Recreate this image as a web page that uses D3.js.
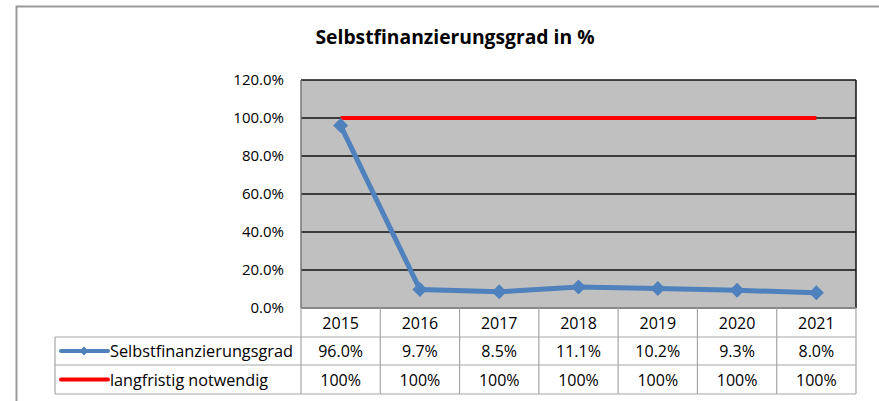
<!DOCTYPE html>
<html><head><meta charset="utf-8">
<script src="https://cdn.jsdelivr.net/npm/d3@7"></script>
<style>body{margin:0;background:#fff}svg{display:block}</style>
</head><body>
<svg id="c" width="879" height="401"></svg>
<script>
const years = ["2015","2016","2017","2018","2019","2020","2021"];
const selbst = [96.0, 9.7, 8.5, 11.1, 10.2, 9.3, 8.0];
const langfristig = [100, 100, 100, 100, 100, 100, 100];
const selbstLabels = ["96.0%","9.7%","8.5%","11.1%","10.2%","9.3%","8.0%"];
const langLabels = ["100%","100%","100%","100%","100%","100%","100%"];
const yTicks = [0, 20, 40, 60, 80, 100, 120];
const seriesNames = ["Selbstfinanzierungsgrad", "langfristig notwendig"];
const title = "Selbstfinanzierungsgrad in %";

const svg = d3.select("#c");
const font = "'Open Sans', 'Noto Sans', sans-serif";
const L = 301, R = 856, T = 80, B = 308;
const x = d3.scaleBand().domain(years).range([L, R]).padding(0);
const y = d3.scaleLinear().domain([0, 120]).range([B, T]);
const cx = d => x(d) + x.bandwidth() / 2;

// outer frame
svg.append("rect").attr("x", 16.5).attr("y", 6.5).attr("width", 900).attr("height", 420)
  .attr("fill", "#fff").attr("stroke", "#999").attr("stroke-width", 2);

// title
svg.append("text").attr("x", 455).attr("y", 44).attr("text-anchor", "middle")
  .attr("font-family", font).attr("font-weight", "bold").attr("font-size", 19).attr("fill", "#000")
  .attr("textLength", 279).attr("lengthAdjust", "spacingAndGlyphs")
  .text(title);

// plot background
svg.append("rect").attr("x", L).attr("y", T).attr("width", R - L).attr("height", B - T).attr("fill", "#c0c0c0");

// gridlines
svg.append("g").selectAll("line").data(yTicks.filter(t => t > 0)).join("line")
  .attr("x1", L).attr("x2", R).attr("y1", d => y(d)).attr("y2", d => y(d))
  .attr("stroke", "#111").attr("stroke-width", 1.5);

// plot borders
svg.append("line").attr("x1", R).attr("x2", R).attr("y1", T).attr("y2", B).attr("stroke", "#111").attr("stroke-width", 1.5);
svg.append("line").attr("x1", L).attr("x2", L).attr("y1", T).attr("y2", B).attr("stroke", "#777").attr("stroke-width", 1.5);
svg.append("line").attr("x1", L).attr("x2", R).attr("y1", B).attr("y2", B).attr("stroke", "#888").attr("stroke-width", 2);

// y axis labels
const yAxis = d3.axisLeft(y).tickValues(yTicks).tickSize(0).tickPadding(0).tickFormat(d => d.toFixed(1) + "%");
const ya = svg.append("g").attr("transform", `translate(284,0)`).call(yAxis);
ya.select(".domain").remove();
ya.selectAll("text").attr("font-family", font).attr("font-size", 15).attr("fill", "#000");

// series lines
const line = d3.line().x((d, i) => cx(years[i])).y(d => y(d));
svg.append("path").datum(langfristig).attr("d", line).attr("fill", "none").attr("stroke", "#ff0000").attr("stroke-width", 4);
svg.append("path").datum(selbst).attr("d", line).attr("fill", "none").attr("stroke", "#4f81bd").attr("stroke-width", 5);
const dia = r => `M0,${-r}L${r},0L0,${r}L${-r},0Z`;
svg.append("g").selectAll("path").data(selbst).join("path")
  .attr("transform", (d, i) => `translate(${cx(years[i])},${y(d)})`)
  .attr("d", dia(7.5)).attr("fill", "#4f81bd");

// data table
const rowTop = [308, 337, 365], rowBot = [337, 365, 394];
const TL = 55;
const g = svg.append("g").attr("stroke", "#a6a6a6").attr("stroke-width", 1.2);
g.append("line").attr("x1", TL).attr("x2", R).attr("y1", 337).attr("y2", 337);
g.append("line").attr("x1", TL).attr("x2", R).attr("y1", 365).attr("y2", 365);
g.append("line").attr("x1", TL).attr("x2", R).attr("y1", 394).attr("y2", 394);
g.append("line").attr("x1", TL).attr("x2", TL).attr("y1", 337).attr("y2", 394);
g.selectAll(".v").data(years).join("line").attr("class", "v")
  .attr("x1", d => x(d)).attr("x2", d => x(d)).attr("y1", B).attr("y2", 394);
g.append("line").attr("x1", R).attr("x2", R).attr("y1", B).attr("y2", 394);

const rows = [years, selbstLabels, langLabels];
rows.forEach((r, ri) => {
  svg.append("g").selectAll("text").data(r).join("text")
    .attr("x", (d, i) => cx(years[i])).attr("y", (rowTop[ri] + rowBot[ri]) / 2 + 6)
    .attr("text-anchor", "middle").attr("font-family", font).attr("font-size", 16).attr("fill", "#000")
    .text(d => d);
});

// legend keys
const keyColors = ["#4f81bd", "#ff0000"];
seriesNames.forEach((n, i) => {
  const ym = (rowTop[i + 1] + rowBot[i + 1]) / 2;
  svg.append("line").attr("x1", 61).attr("x2", 108).attr("y1", ym).attr("y2", ym)
    .attr("stroke", keyColors[i]).attr("stroke-width", 4).attr("stroke-linecap", "round");
  if (i === 0) svg.append("path").attr("transform", `translate(84,${ym})`)
    .attr("d", dia(4.5)).attr("fill", keyColors[i]);
  svg.append("text").attr("x", 110).attr("y", ym + 6).attr("font-family", font).attr("font-size", 16).attr("fill", "#000")
    .attr("textLength", 183).attr("lengthAdjust", "spacingAndGlyphs").text(n)
    .attr("textLength", i === 0 ? 183 : 158);
});
</script>
</body></html>
